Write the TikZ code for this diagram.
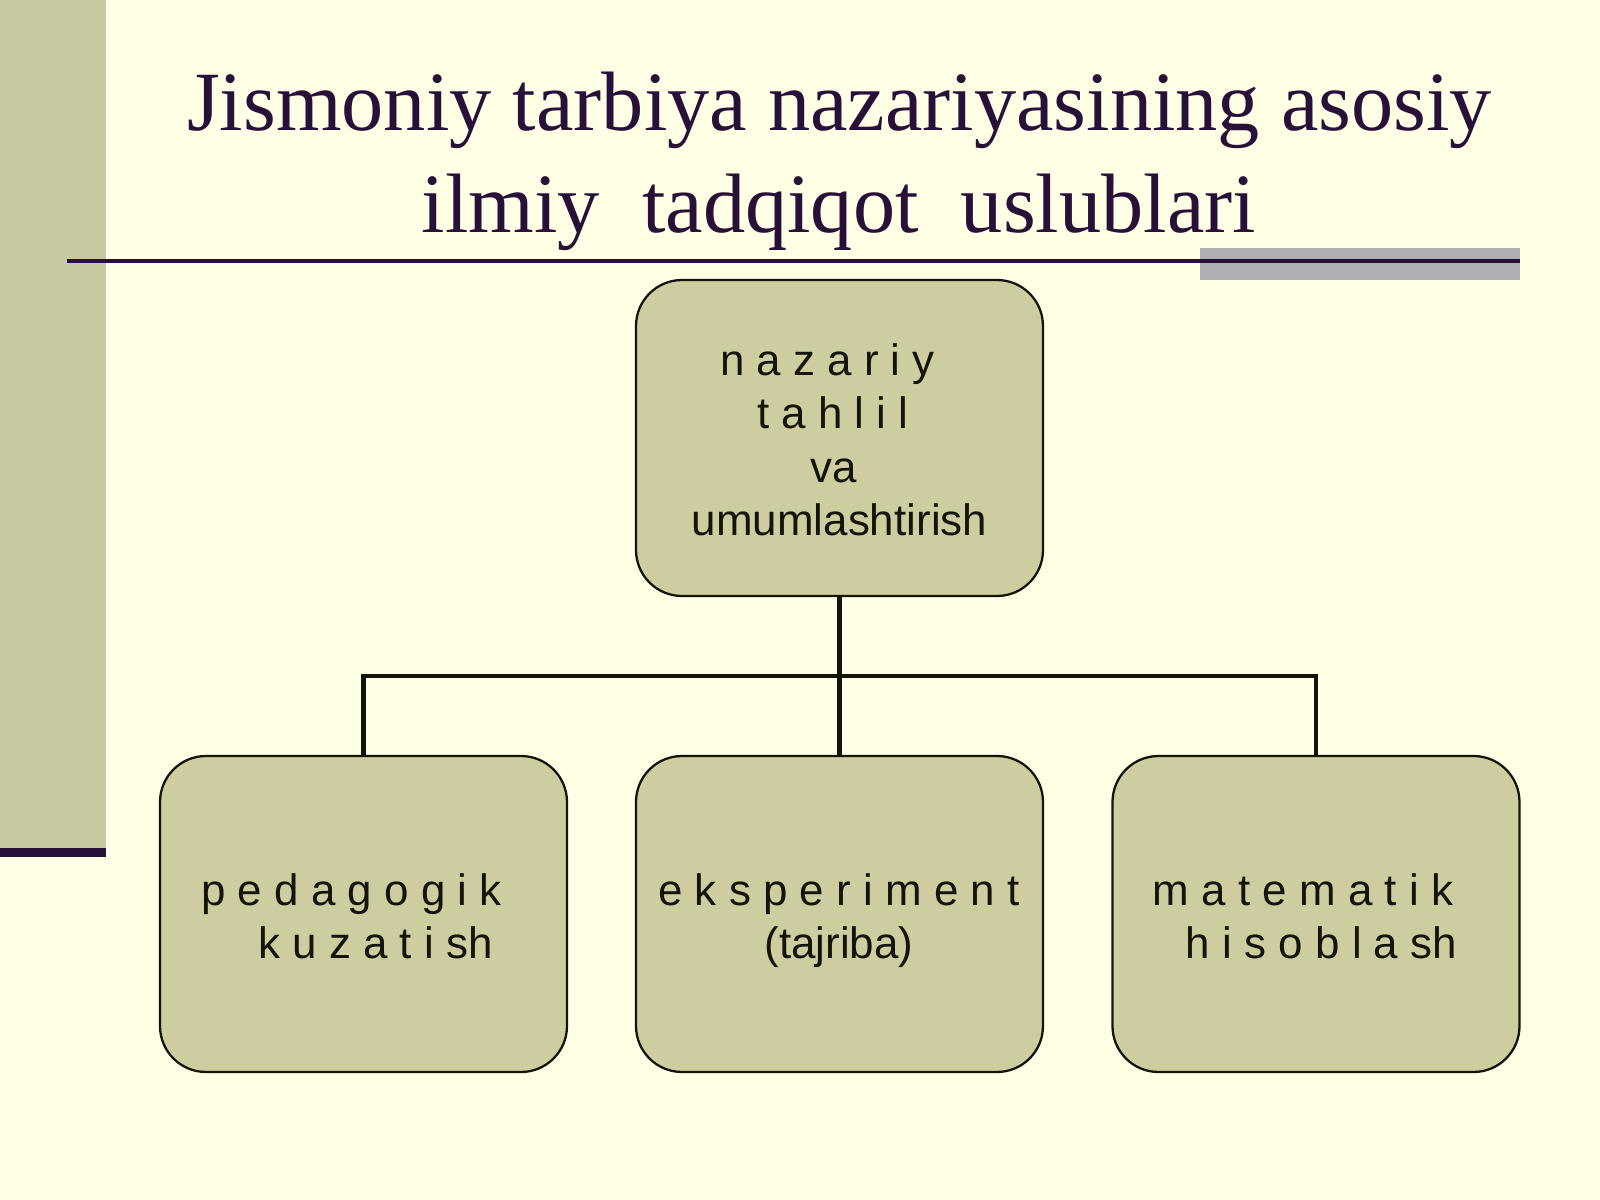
\documentclass[tikz,border=0pt]{standalone}
\usepackage{fontspec}
\setmainfont{Liberation Serif}
\newfontfamily\arialf{Liberation Sans}
\definecolor{bgc}{RGB}{255,255,230}
\definecolor{sage}{RGB}{205,205,160}
\definecolor{sidec}{RGB}{200,200,160}
\definecolor{plum}{RGB}{40,16,56}
\definecolor{greybar}{RGB}{176,174,178}
\definecolor{ink}{RGB}{20,20,10}
\tikzset{
  box/.style={draw=ink, line width=0.65pt, fill=sage, rounded corners=4.6mm,
    minimum width=40.7mm, minimum height=31.6mm, inner sep=0pt},
  lbl/.style={anchor=base, inner sep=0pt, text=ink, font=\arialf\fontsize{12.5}{15}\selectfont},
  ttl/.style={anchor=base, inner sep=0pt, text=plum, font=\fontsize{24}{28}\selectfont},
  conn/.style={draw=ink, line width=1.3pt, line join=miter}
}
\begin{document}
\begin{tikzpicture}[x=0.1mm, y=-0.1mm]
\useasboundingbox (0,0) rectangle (1600,1200);
\fill[bgc] (0,0) rectangle (1600,1200);
% sidebar
\fill[sidec] (0,0) rectangle (106,848);
\fill[plum] (0,848) rectangle (106,857);
% title
\node[ttl] (title1) at (839.5,131) {Jismoniy tarbiya nazariyasining asosiy};
\node[ttl] (title2) at (839,233) {ilmiy\ \ tadqiqot\ \ uslublari};
% rule
\fill[greybar] (1200,248) rectangle (1520,280);
\draw[plum, line width=1.1pt] (67,261) -- (1520,261);
% boxes
\node[box] (top) at (839.5,438) {};
\node[box] (left) at (363.5,914) {};
\node[box] (mid) at (839.5,914) {};
\node[box] (right) at (1316,914) {};
% connectors
\coordinate (hub) at (839.5,676);
\draw[conn] (top.south) -- (mid.north);
\draw[conn] (left.north) |- (hub) -| (right.north);
% labels
\node[lbl] (t1) at (827.5,376) {n a z a r i y};
\node[lbl] (t2) at (833,429) {t a h l i l};
\node[lbl] (t3) at (833.5,482) {va};
\node[lbl] (t4) at (839.5,535) {umumlashtirish};
\node[lbl] (l1) at (351.5,905) {p e d a g o g i k};
\node[lbl] (l2) at (375.5,958) {k u z a t i sh};
\node[lbl] (m1) at (839,905) {e k s p e r i m e n t};
\node[lbl] (m2) at (839,958) {(tajriba)};
\node[lbl] (r1) at (1303,905) {m a t e m a t i k};
\node[lbl] (r2) at (1321.5,958) {h i s o b l a sh};
\end{tikzpicture}
\end{document}
